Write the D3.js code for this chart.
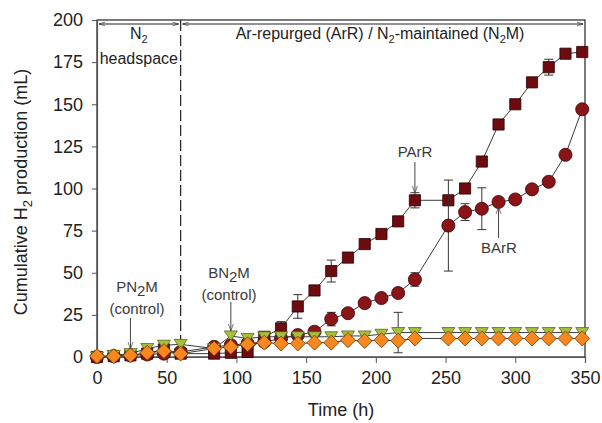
<!DOCTYPE html>
<html>
<head>
<meta charset="utf-8">
<script src="https://cdn.jsdelivr.net/npm/d3@7"></script>
<style>
  body { margin: 0; background: #fff; }
  text { font-family: "Liberation Sans", Arial, sans-serif; }
</style>
</head>
<body>
<div id="chart"></div>
<script>
// sampling times (h)
const times = [0, 12, 24, 36, 48, 60, 84, 96, 108, 120, 132, 144, 156, 168, 180, 192, 204, 216, 228,
               252, 264, 276, 288, 300, 312, 324, 336, 348];
// cumulative H2 (mL)
const pArR = [0, 0.5, 1, 2, 4.5, 2, 2, 2.5, 3, 12, 17, 30, 39.5, 51, 59, 67, 73, 80.5, 93,
              93, 100, 116, 138, 150, 163, 172, 180, 181];
const bArR = [0, 0.5, 1, 1.5, 2, 3, 6, 7, 8, 9, 11, 13, 15, 22.5, 26, 32, 35, 38, 46,
              78, 86, 88, 92, 93.5, 99.5, 104, 120, 147];
const bN2M = [0, 1, 2, 5, 7, 7.5, 5, 12.5, 11, 12, 12, 12, 12, 12, 12.5, 12.5, 13.5, 14.5, 14.5,
              14.5, 14.5, 14.5, 14.5, 14.5, 14.5, 14.5, 14.5, 14.5];
const pN2M = [0.5, 0.5, 1, 2.5, 3.5, 2, 5, 6, 7.5, 8.5, 8, 8, 8.5, 8.5, 10, 9.5, 10, 9.7, 11,
              11, 11, 11, 11, 11, 11, 11, 11, 11];
// error bars (0 = none)
const pArRErr = [0, 0, 0, 0, 0, 0, 0, 0, 0, 0, 4, 7, 0, 6.5, 0, 0, 0, 0, 4.5,
                 0, 0, 0, 0, 0, 0, 4.7, 0, 0];
const bArRErr = [0, 0, 0, 0, 0, 0, 0, 0, 0, 0, 0, 0, 0, 4, 0, 0, 0, 0, 4,
                 27, 5, 12.4, 0, 0, 0, 0, 0, 0];
const bN2MErr = [0, 0, 0, 0, 0, 0, 0, 0, 0, 0, 0, 0, 0, 0, 0, 0, 0, 12, 0,
                 0, 0, 0, 0, 0, 0, 0, 0, 0];
const xTicks = [0, 50, 100, 150, 200, 250, 300, 350];
const yTicks = [0, 25, 50, 75, 100, 125, 150, 175, 200];
const switchTime = 60;

const width = 602, height = 423;
const mLeft = 97, mRight = 585, mTop = 20, mBottom = 357;

const svg = d3.select("#chart").append("svg")
  .attr("width", width).attr("height", height);

const x = d3.scaleLinear().domain([0, 350]).range([mLeft, mRight]);
const y = d3.scaleLinear().domain([0, 200]).range([mBottom, mTop]);

// frame
svg.append("rect")
  .attr("x", mLeft).attr("y", mTop)
  .attr("width", mRight - mLeft).attr("height", mBottom - mTop)
  .attr("fill", "none").attr("stroke", "#222").attr("stroke-width", 1.2);

// axes
let yAxis = svg.append("g")
  .attr("transform", `translate(${mLeft},0)`)
  .call(d3.axisLeft(y).tickValues(yTicks).tickSize(5).tickPadding(9).tickFormat(d3.format("d")));
let xAxis = svg.append("g")
  .attr("transform", `translate(0,${mBottom})`)
  .call(d3.axisBottom(x).tickValues(xTicks).tickSize(6).tickPadding(8).tickFormat(d3.format("d")));
[yAxis, xAxis].forEach(a => {
  a.select(".domain").attr("stroke", "#555").attr("stroke-width", 1.2);
  a.selectAll(".tick line").attr("stroke", "#555");
  a.selectAll(".tick text").attr("fill", "#222").style("font-size", "18px")
    .style("font-family", "'Liberation Sans', Arial, sans-serif");
});

// axis titles
svg.append("text")
  .attr("x", x(175)).attr("y", 416)
  .attr("text-anchor", "middle").attr("fill", "#222")
  .style("font-size", "18px").text("Time (h)");

let yt = svg.append("text")
  .attr("transform", `translate(27,192) rotate(-90)`)
  .attr("text-anchor", "middle").attr("fill", "#222")
  .style("font-size", "18px");
yt.append("tspan").text("Cumulative H");
yt.append("tspan").attr("dy", 5).style("font-size", "13px").text("2");
yt.append("tspan").attr("dy", -5).text(" production (mL)");

// phase divider
svg.append("line")
  .attr("x1", x(switchTime)).attr("x2", x(switchTime))
  .attr("y1", mTop).attr("y2", mBottom)
  .attr("stroke", "#222").attr("stroke-width", 1.2)
  .attr("stroke-dasharray", "11,4");

// double arrows along the top
const defs = svg.append("defs");
defs.append("marker").attr("id", "head")
  .attr("viewBox", "0 0 10 10").attr("refX", 10).attr("refY", 5)
  .attr("markerWidth", 10).attr("markerHeight", 6).attr("orient", "auto-start-reverse")
  .attr("markerUnits", "userSpaceOnUse")
  .append("path").attr("d", "M0,2 L10,5 L0,8").attr("fill", "none").attr("stroke", "#222");

const arrowY = 24;
[[0, switchTime], [switchTime, 350]].forEach(([a, b]) => {
  svg.append("line")
    .attr("x1", x(a) + 2).attr("x2", x(b) - 2)
    .attr("y1", arrowY).attr("y2", arrowY)
    .attr("stroke", "#222").attr("stroke-width", 1)
    .attr("marker-start", "url(#head)").attr("marker-end", "url(#head)");
});

let n2 = svg.append("text").attr("x", x(30)).attr("y", 39)
  .attr("text-anchor", "middle").attr("fill", "#222").style("font-size", "16px");
n2.append("tspan").text("N");
n2.append("tspan").attr("dy", 4).style("font-size", "11px").text("2");
svg.append("text").attr("x", x(30)).attr("y", 64)
  .attr("text-anchor", "middle").attr("fill", "#222").style("font-size", "16px")
  .text("headspace");

let top2 = svg.append("text").attr("x", x(203)).attr("y", 39)
  .attr("text-anchor", "middle").attr("fill", "#222").style("font-size", "16px");
top2.append("tspan").text("Ar-repurged (ArR) / N");
top2.append("tspan").attr("dy", 4).style("font-size", "11px").text("2");
top2.append("tspan").attr("dy", -4).text("-maintained (N");
top2.append("tspan").attr("dy", 4).style("font-size", "11px").text("2");
top2.append("tspan").attr("dy", -4).text("M)");

// series
const series = [
  { vals: pArR, err: pArRErr, fill: "#6e0b10", stroke: "#2a0000",
    shape: d3.symbol().type(d3.symbolSquare).size(125)() },
  { vals: bArR, err: bArRErr, fill: "#8a1418", stroke: "#3a0505",
    shape: d3.symbol().type(d3.symbolCircle).size(135)() },
  { vals: bN2M, err: bN2MErr, fill: "#a7c03a", stroke: "#5a6418",
    shape: "M-6.5,-5L6.5,-5L0,5Z" },
  { vals: pN2M, err: null, fill: "#f7871f", stroke: "#6b3a08",
    shape: "M0,-7.5L7.5,0L0,7.5L-7.5,0Z" }
];

const line = d3.line().x(d => x(d[0])).y(d => y(d[1]));

series.forEach(s => {
  let pts = times.map((t, i) => [t, s.vals[i], s.err ? s.err[i] : 0]);
  svg.append("path").datum(pts)
    .attr("d", line).attr("fill", "none")
    .attr("stroke", "#3a3a3a").attr("stroke-width", 1);

  let eb = svg.append("g").attr("stroke", "#333").attr("stroke-width", 1);
  pts.filter(d => d[2] > 0).forEach(d => {
    eb.append("line").attr("x1", x(d[0])).attr("x2", x(d[0]))
      .attr("y1", y(d[1] - d[2])).attr("y2", y(d[1] + d[2]));
    [d[1] - d[2], d[1] + d[2]].forEach(v => {
      eb.append("line").attr("x1", x(d[0]) - 4.5).attr("x2", x(d[0]) + 4.5)
        .attr("y1", y(v)).attr("y2", y(v));
    });
  });

  svg.append("g").selectAll("path")
    .data(pts).enter().append("path")
    .attr("d", s.shape)
    .attr("transform", d => `translate(${x(d[0])},${y(d[1])})`)
    .attr("fill", s.fill).attr("stroke", s.stroke).attr("stroke-width", 0.8);
});

// annotations
defs.append("marker").attr("id", "tip")
  .attr("viewBox", "0 0 10 10").attr("refX", 10).attr("refY", 5)
  .attr("markerWidth", 7).attr("markerHeight", 7).attr("orient", "auto")
  .attr("markerUnits", "userSpaceOnUse")
  .append("path").attr("d", "M0,1.5 L10,5 L0,8.5").attr("fill", "none").attr("stroke", "#444");

// parts: [text, text-after-subscript...] where a sub entry lowers just that piece
function label(cx, lines, baseY) {
  lines.forEach((parts, i) => {
    let t = svg.append("text").attr("x", cx).attr("y", baseY + i * 22)
      .attr("text-anchor", "middle").attr("fill", "#3a3a3a").style("font-size", "15px");
    let shift = 0;
    parts.forEach(p => {
      let want = p.sub ? 4 : 0;
      t.append("tspan").attr("dy", want - shift).text(p.sub || p.t);
      shift = want;
    });
  });
}
function arrow(xx, y1, y2) {
  svg.append("line").attr("x1", xx).attr("x2", xx).attr("y1", y1).attr("y2", y2)
    .attr("stroke", "#444").attr("stroke-width", 1).attr("marker-end", "url(#tip)");
}

label(137, [[{t: "PN"}, {sub: "2"}, {t: "M"}], [{t: "(control)"}]], 292);
arrow(x(24), 318, 349);
label(229, [[{t: "BN"}, {sub: "2"}, {t: "M"}], [{t: "(control)"}]], 278);
arrow(x(96), 302, 331);
label(415, [[{t: "PArR"}]], 157);
arrow(x(228), 162, 193);
label(499, [[{t: "BArR"}]], 253);
arrow(x(288), 238, 207);
</script>
</body>
</html>
